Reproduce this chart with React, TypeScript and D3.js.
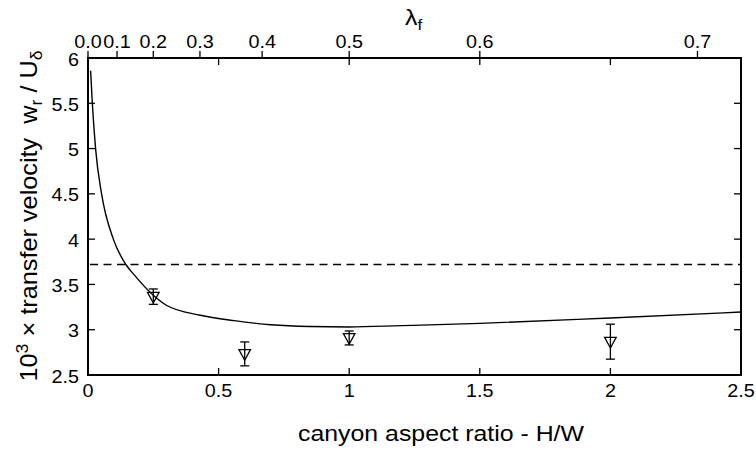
import React from "react";
import * as d3 from "d3";

// model curve
const curveHW = [0.010, 0.0166, 0.029, 0.052, 0.097, 0.145, 0.177, 0.25, 0.30, 0.43, 0.56, 0.70, 0.85, 1.0, 1.2, 1.5, 2.0, 2.5];
const curveW = [5.86, 5.5, 5.0, 4.5, 4.0, 3.72, 3.605, 3.38, 3.27, 3.16, 3.10, 3.055, 3.035, 3.03, 3.045, 3.07, 3.13, 3.195];

// measurements with error bars
const obsHW = [0.25, 0.6, 1.0, 2.0];
const obsW = [3.365, 2.733, 2.909, 2.868];
const obsErr = [0.085, 0.132, 0.077, 0.193];

// reference (dashed) level
const refLevel = 3.72;

// axis ticks
const xTicks = [0, 0.5, 1, 1.5, 2, 2.5];
const xTickLabels = ["0", "0.5", "1", "1.5", "2", "2.5"];
const yTicks = [2.5, 3, 3.5, 4, 4.5, 5, 5.5, 6];
const yTickLabels = ["2.5", "3", "3.5", "4", "4.5", "5", "5.5", "6"];
const lambdaTicks = [0.0, 0.1, 0.2, 0.3, 0.4, 0.5, 0.6, 0.7];
const lambdaTickLabels = ["0.0", "0.1", "0.2", "0.3", "0.4", "0.5", "0.6", "0.7"];

const W = 756, H = 450;
const L = 88, R = 741, T = 58, B = 375;
const FONT = "'Liberation Sans', Arial, Helvetica, sans-serif";
const SX = 1.13;
const TICK = 7;

export default function App() {
  const x = d3.scaleLinear().domain([0, 2.5]).range([L, R]);
  const y = d3.scaleLinear().domain([2.5, 6]).range([B, T]);
  const line = d3
    .line<number>()
    .x((_, i) => x(curveHW[i]))
    .y((d) => y(d))
    .curve(d3.curveMonotoneX);
  const lamToHW = (l: number) => l / (1 - l);

  const txt = (
    key: string,
    tx: number,
    ty: number,
    s: string,
    size: number,
    anchor: string
  ) => (
    <text
      key={key}
      transform={`translate(${tx},${ty}) scale(${SX},1)`}
      fontSize={size}
      textAnchor={anchor}
      fontFamily={FONT}
      fill="#000"
    >
      {s}
    </text>
  );

  return (
    <div style={{ position: "absolute", left: 0, top: 0 }}>
      <svg width={W} height={H} style={{ display: "block", background: "#fff" }}>
        <rect x={0} y={0} width={W} height={H} fill="#fff" />
        {/* dashed reference line */}
        <line
          x1={L + 2}
          x2={R}
          y1={y(refLevel)}
          y2={y(refLevel)}
          stroke="#000"
          strokeWidth={1.3}
          strokeDasharray="8,5.5"
        />
        {/* model curve */}
        <path d={line(curveW) || ""} fill="none" stroke="#000" strokeWidth={1.4} />
        {/* observations */}
        {obsHW.map((h, i) => {
          const cx = x(h);
          const cy = y(obsW[i]);
          const top = y(obsW[i] + obsErr[i]);
          const bot = y(obsW[i] - obsErr[i]);
          const tri = `M${cx - 5.8},${cy - 4.3} L${cx + 5.8},${cy - 4.3} L${cx},${cy + 6.3} Z`;
          return (
            <g key={"o" + i} stroke="#000" strokeWidth={1.3} fill="none">
              <line x1={cx} x2={cx} y1={top} y2={bot} />
              <line x1={cx - 4.5} x2={cx + 4.5} y1={top} y2={top} />
              <line x1={cx - 4.5} x2={cx + 4.5} y1={bot} y2={bot} />
              <path d={tri} />
            </g>
          );
        })}
        {/* frame */}
        <rect x={L} y={T} width={R - L} height={B - T} fill="none" stroke="#000" strokeWidth={2} />
        {/* bottom ticks + mirrored top ticks */}
        {xTicks.map((t, i) => (
          <g key={"xt" + i} stroke="#000" strokeWidth={1.3}>
            <line x1={x(t)} x2={x(t)} y1={B} y2={B - TICK} />
            <line x1={x(t)} x2={x(t)} y1={T} y2={T + TICK} />
          </g>
        ))}
        {xTicks.map((t, i) => txt("xl" + i, x(t), 397, xTickLabels[i], 17.5, "middle"))}
        {/* left ticks + mirrored right ticks */}
        {yTicks.map((t, i) => (
          <g key={"yt" + i} stroke="#000" strokeWidth={1.3}>
            <line x1={L} x2={L + TICK} y1={y(t)} y2={y(t)} />
            <line x1={R} x2={R - TICK} y1={y(t)} y2={y(t)} />
          </g>
        ))}
        {yTicks.map((t, i) => txt("yl" + i, 79, y(t) + 7.5, yTickLabels[i], 17.5, "end"))}
        {/* top lambda axis */}
        {lambdaTicks.map((l, i) => (
          <line
            key={"lt" + i}
            x1={x(lamToHW(l))}
            x2={x(lamToHW(l))}
            y1={T}
            y2={T - TICK}
            stroke="#000"
            strokeWidth={1.3}
          />
        ))}
        {lambdaTicks.map((l, i) => txt("ll" + i, x(lamToHW(l)), 48, lambdaTickLabels[i], 17.5, "middle"))}
        <text
          transform={`translate(405,25) scale(${SX},1)`}
          fontSize={22}
          fontFamily={FONT}
          fill="#000"
        >
          λ<tspan fontSize={15} dy={5}>f</tspan>
        </text>
        {/* axis titles */}
        {txt("xlab", 441, 441, "canyon aspect ratio - H/W", 22, "middle")}
        <text
          transform={`translate(37,216) rotate(-90) scale(1.1,1)`}
          fontSize={23}
          fontFamily={FONT}
          textAnchor="middle"
          fill="#000"
          style={{ whiteSpace: "pre" }}
        >
          10<tspan fontSize={16} dy={-9}>3</tspan>
          <tspan dy={9} fontWeight={300}>{" \u00d7 "}</tspan>
          <tspan>{"transfer velocity  w"}</tspan>
          <tspan fontSize={16} dy={5}>r</tspan>
          <tspan dy={-5}>{" / U"}</tspan>
          <tspan fontSize={16} dy={5}>δ</tspan>
        </text>
      </svg>
    </div>
  );
}
